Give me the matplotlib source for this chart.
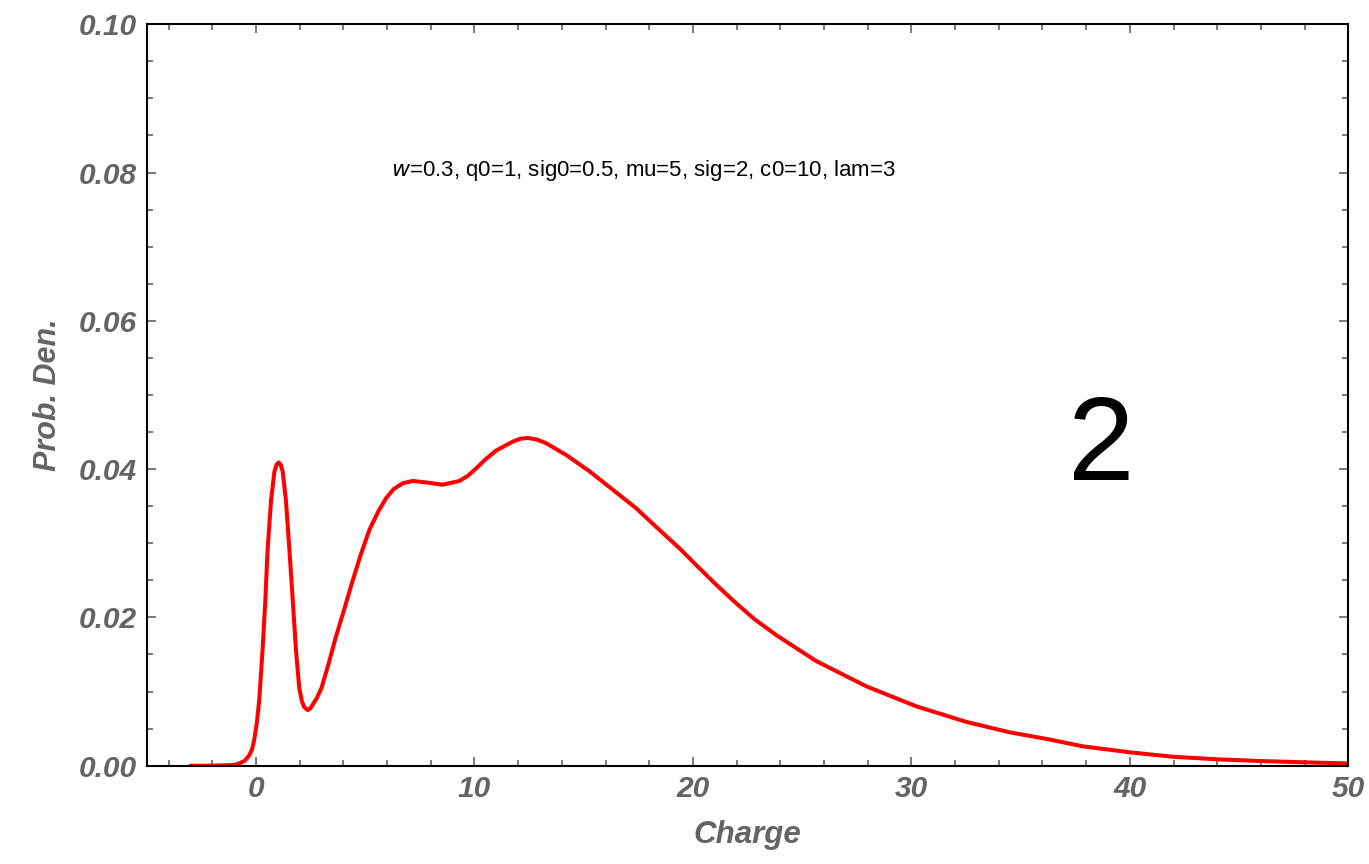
import matplotlib
matplotlib.use("Agg")
import matplotlib.pyplot as plt
from matplotlib.ticker import MultipleLocator

# values (charge, prob. density)
charge = [-3, -2, -1, -0.76, -0.5, -0.31, -0.18, -0.08, 0.04, 0.15, 0.30, 0.43, 0.53, 0.69,
          0.84, 0.94, 1.04, 1.13, 1.22, 1.37, 1.53, 1.68, 1.83, 1.98, 2.1, 2.21, 2.36, 2.48,
          2.59, 2.8, 3.0, 3.3, 3.66, 4.05, 4.43, 4.8, 5.19, 5.6, 5.96, 6.3, 6.72, 7.17, 7.79,
          8.55, 9.31, 9.7, 10.08, 10.5, 10.99, 11.75, 12.1, 12.44, 12.85, 13.28, 14.20, 15.27,
          16.34, 17.41, 18.32, 19.39, 20.1, 21.0, 21.83, 22.8, 23.82, 25.65, 27.94, 30.23,
          32.52, 34.5, 36.2, 37.87, 40.0, 41.99, 43.98, 45.96, 47.94, 50]
dens = [0, 0, 0.0001, 0.0003, 0.0007, 0.0014, 0.0022, 0.0035, 0.0058, 0.0089, 0.0156, 0.0224,
        0.0291, 0.0358, 0.0396, 0.0406, 0.0409, 0.0406, 0.0397, 0.0358, 0.0291, 0.0224, 0.0156,
        0.0105, 0.0087, 0.0079, 0.0075, 0.0077, 0.0082, 0.0092, 0.0105, 0.0135, 0.0174, 0.0212,
        0.0250, 0.0285, 0.0318, 0.0343, 0.0361, 0.0373, 0.0381, 0.0384, 0.0382, 0.0379, 0.0384,
        0.0391, 0.0401, 0.0413, 0.0425, 0.0437, 0.0441, 0.0442, 0.0440, 0.0435, 0.0419, 0.0397,
        0.0372, 0.0347, 0.0322, 0.0293, 0.0272, 0.0246, 0.0223, 0.0198, 0.0176, 0.0141, 0.0107,
        0.0080, 0.0059, 0.0045, 0.0036, 0.0026, 0.0018, 0.0012, 0.00086, 0.00063, 0.00046, 0.0003]

params_text = "=0.3, q0=1, sig0=0.5, mu=5, sig=2, c0=10, lam=3"
gray = "#646464"

plt.rcParams['font.family'] = ['Liberation Sans', 'DejaVu Sans']

fig = plt.figure(figsize=(13.69, 8.64), dpi=100)
ax = fig.add_axes([0.1072, 0.1138, 0.8777, 0.8581])

ax.plot(charge, dens, color="#ff0000", lw=2.9, solid_joinstyle="round", solid_capstyle="round")

ax.set_xlim(-5, 50)
ax.set_ylim(0, 0.1)

ax.xaxis.set_major_locator(MultipleLocator(10))
ax.xaxis.set_minor_locator(MultipleLocator(2))
ax.yaxis.set_major_locator(MultipleLocator(0.02))
ax.yaxis.set_minor_locator(MultipleLocator(0.005))
ax.yaxis.set_major_formatter(lambda v, p: f"{v:.2f}")

# ticks on all sides, pointing in (mathematica frame look)
ax.tick_params(which="both", direction="in", top=True, right=True, color=gray, width=1.2)
ax.tick_params(which="major", length=6.5)
ax.tick_params(which="minor", length=4)
ax.tick_params(axis="both", which="major", labelsize=21.5, labelcolor=gray, pad=7)
for lab in ax.get_xticklabels() + ax.get_yticklabels():
    lab.set_fontweight("bold")
    lab.set_fontstyle("italic")

for sp in ax.spines.values():
    sp.set_linewidth(1.5)
    sp.set_color("black")

ax.set_xlabel("Charge", fontsize=22.5, color=gray, fontweight="bold", fontstyle="italic", labelpad=12)
ax.set_ylabel("Prob. Den.", fontsize=22, color=gray, fontweight="bold", fontstyle="italic")
ax.yaxis.set_label_coords(-0.070, 0.5)

# parameter line, w in italics
ax.text(17.75, 0.0803, r"$\mathit{w}$" + params_text, fontsize=16, ha="center", va="center")

ax.text(38.7, 0.0427, "2", fontsize=86, ha="center", va="center")

fig.savefig("out.png", dpi=100)
